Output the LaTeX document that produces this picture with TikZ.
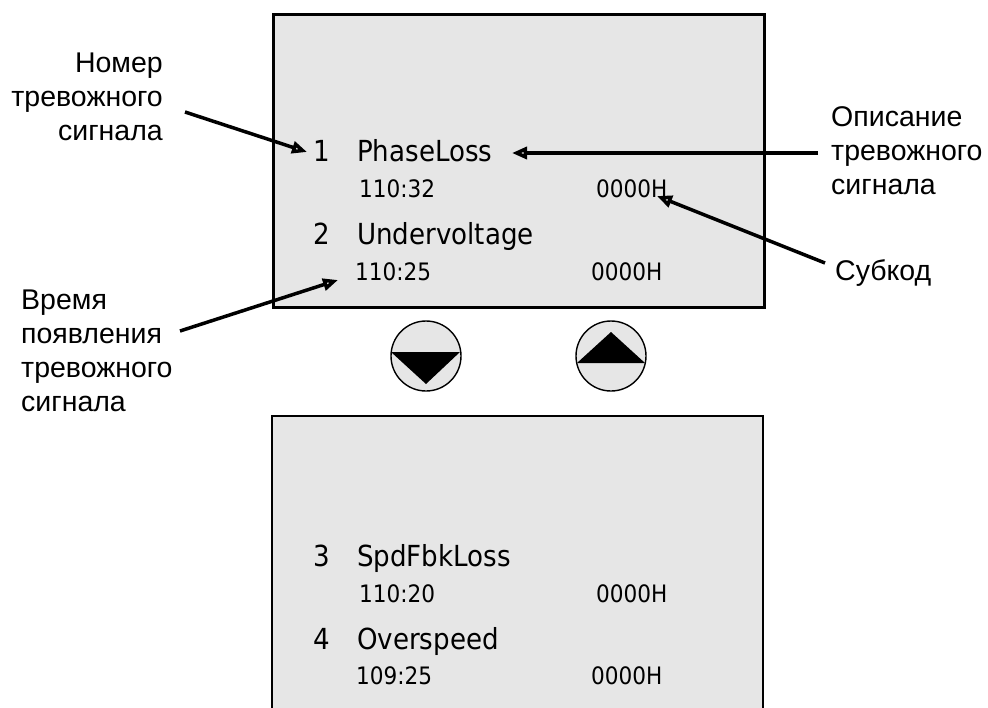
\documentclass[tikz,border=0pt]{standalone}
\usepackage{fontspec}
\setmainfont{Liberation Sans}
\newfontfamily\dispfont{DejaVu Sans Condensed}
\usetikzlibrary{arrows.meta}
\definecolor{panel}{HTML}{E6E6E6}
\begin{document}
\begin{tikzpicture}[x=1pt,y=-1pt,
  panelline/.style={draw=black,line width=2.6pt},
  big/.style={font=\dispfont\fontsize{29}{34}\selectfont, anchor=base west, inner sep=0pt},
  small/.style={font=\dispfont\fontsize{24}{28}\selectfont, anchor=base west, inner sep=0pt},
  lbl/.style={font=\fontsize{28.5}{34}\selectfont, inner sep=0pt},
  callout/.style={line width=3.5pt, -{Triangle[open,length=15pt,width=12pt]}},
  btn/.style={circle, draw=black, fill=panel, line width=1.4pt, minimum size=70pt, inner sep=0pt}
]
\useasboundingbox (0,0) rectangle (988,707);

% top display panel
\node[panelline, fill=panel, anchor=north west, minimum width=491pt, minimum height=293pt, inner sep=0pt] (toppanel) at (272,13) {};

% bottom display panel (open at the bottom edge)
\fill[panel] (272,416) rectangle (763,712);
\draw[panelline] (272,712) -- (272,416) -- (763,416) -- (763,712);

% top panel texts
\node[big] (n1) at (313,161) {1};
\node[big] (d1) at (357,161) {PhaseLoss};
\node[small] (t1) at (359,197) {110:32};
\node[small] (s1) at (596,197) {0000H};
\node[big] (n2) at (313,244) {2};
\node[big] (d2) at (357,244) {Undervoltage};
\node[small] (t2) at (355,280) {110:25};
\node[small] (s2) at (591,280) {0000H};

% bottom panel texts
\node[big] (n3) at (313,566) {3};
\node[big] (d3) at (357,566) {SpdFbkLoss};
\node[small] (t3) at (359,602) {110:20};
\node[small] (s3) at (596,602) {0000H};
\node[big] (n4) at (313,649) {4};
\node[big] (d4) at (357,649) {Overspeed};
\node[small] (t4) at (356,684) {109:25};
\node[small] (s4) at (591,684) {0000H};

% buttons
\node[btn] (bdown) at (426,356) {};
\fill[shift={(bdown.center)}] (-35,-4) -- (34,-4) -- (0,28) -- cycle;
\node[btn] (bup) at (611,356) {};
\fill[shift={(bup.center)}] (-34,7) -- (34,7) -- (0,-24) -- cycle;

% labels
\node[lbl, anchor=north east, align=right] (lnum) at (163,53) {Номер\\тревожного\\сигнала};
\node[lbl, anchor=north west, align=left] (ltime) at (21,290) {Время\\появления\\тревожного\\сигнала};
\node[lbl, anchor=north west, align=left] (ldesc) at (831,106) {Описание\\тревожного\\сигнала};
\node[lbl, anchor=base west] (lsub) at (835,280) {Субкод};

% connectors
\coordinate (c1s) at (185,112);
\coordinate (c1e) at (307,152);
\draw[callout] (c1s) -- (c1e);
\coordinate (c2s) at (180,331);
\coordinate (c2e) at (338,280);
\draw[callout] (c2s) -- (c2e);
\coordinate (c3s) at (818,153);
\coordinate (c3e) at (512,153);
\draw[callout] (c3s) -- (c3e);
\coordinate (c4s) at (825,263);
\coordinate (c4e) at (657,196);
\draw[callout] (c4s) -- (c4e);
\end{tikzpicture}
\end{document}
